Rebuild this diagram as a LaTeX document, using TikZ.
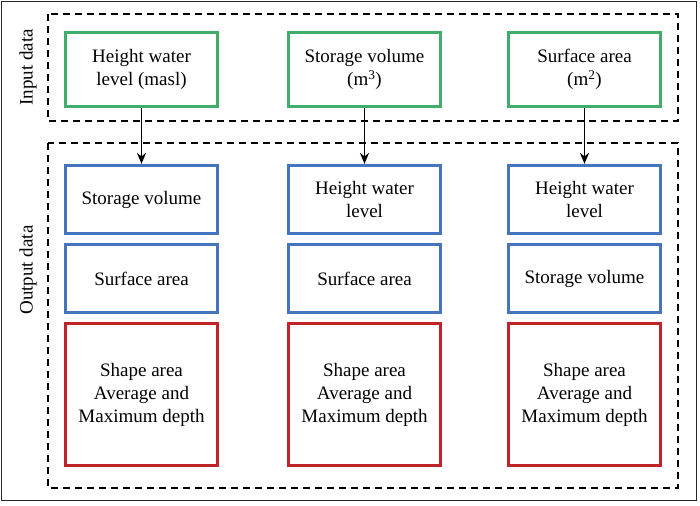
\documentclass[tikz,border=0pt]{standalone}
\usepackage{fontspec}
\setmainfont{Liberation Serif}
\usetikzlibrary{arrows.meta}
\definecolor{ingreen}{RGB}{64,174,106}
\definecolor{outblue}{RGB}{70,116,190}
\definecolor{outred}{RGB}{192,36,42}
\tikzset{
  x=1pt, y=-1pt,
  txt/.style={font=\fontsize{19}{23}\selectfont, align=center, inner sep=0pt},
  greenbox/.style={txt, draw=ingreen, line width=3.2pt, minimum width=152pt, minimum height=74pt},
  bluebox/.style={txt, draw=outblue, line width=3.2pt, minimum width=152pt, minimum height=68pt},
  redbox/.style={txt, draw=outred, line width=3.2pt, minimum width=152pt, minimum height=142pt},
  groupbox/.style={draw=black, line width=1.6pt, dash pattern=on 7pt off 5pt},
  sidelabel/.style={txt, rotate=90},
  flow/.style={-{Stealth[length=11pt,width=9pt]}, line width=1.8pt, black}
}
\begin{document}
\begin{tikzpicture}
\useasboundingbox (0,0) rectangle (700,505);
\draw[line width=1.2pt, black!85] (1.5,1.5) rectangle (696.5,500.5);
\draw[groupbox] (48,14) rectangle (678,121);
\draw[groupbox] (48,143) rectangle (678,488);
\node[sidelabel] (lin) at (28,67.5) {Input data};
\node[sidelabel] (lout) at (28,270) {Output data};
% input row
\node[greenbox] (g1) at (141.5,69.5) {Height water\\level (masl)};
\node[greenbox] (g2) at (364.5,69.5) {Storage volume\\(m\textsuperscript{3})};
\node[greenbox] (g3) at (584.5,69.5) {Surface area\\(m\textsuperscript{2})};
% output column 1
\node[bluebox] (b11) at (141.5,199.5) {Storage volume};
\node[bluebox] (b12) at (141.5,278.5) {Surface area};
\node[redbox] (r1) at (141.5,394.5) {Shape area\\Average and\\Maximum depth};
% output column 2
\node[bluebox] (b21) at (364.5,199.5) {Height water\\level};
\node[bluebox] (b22) at (364.5,278.5) {Surface area};
\node[redbox] (r2) at (364.5,394.5) {Shape area\\Average and\\Maximum depth};
% output column 3
\node[bluebox] (b31) at (584.5,199.5) {Height water\\level};
\node[bluebox] (b32) at (584.5,278.5) {Storage volume};
\node[redbox] (r3) at (584.5,394.5) {Shape area\\Average and\\Maximum depth};
% arrows
\draw[flow] (g1.south) -- (b11.north);
\draw[flow] (g2.south) -- (b21.north);
\draw[flow] (g3.south) -- (b31.north);
\end{tikzpicture}
\end{document}
